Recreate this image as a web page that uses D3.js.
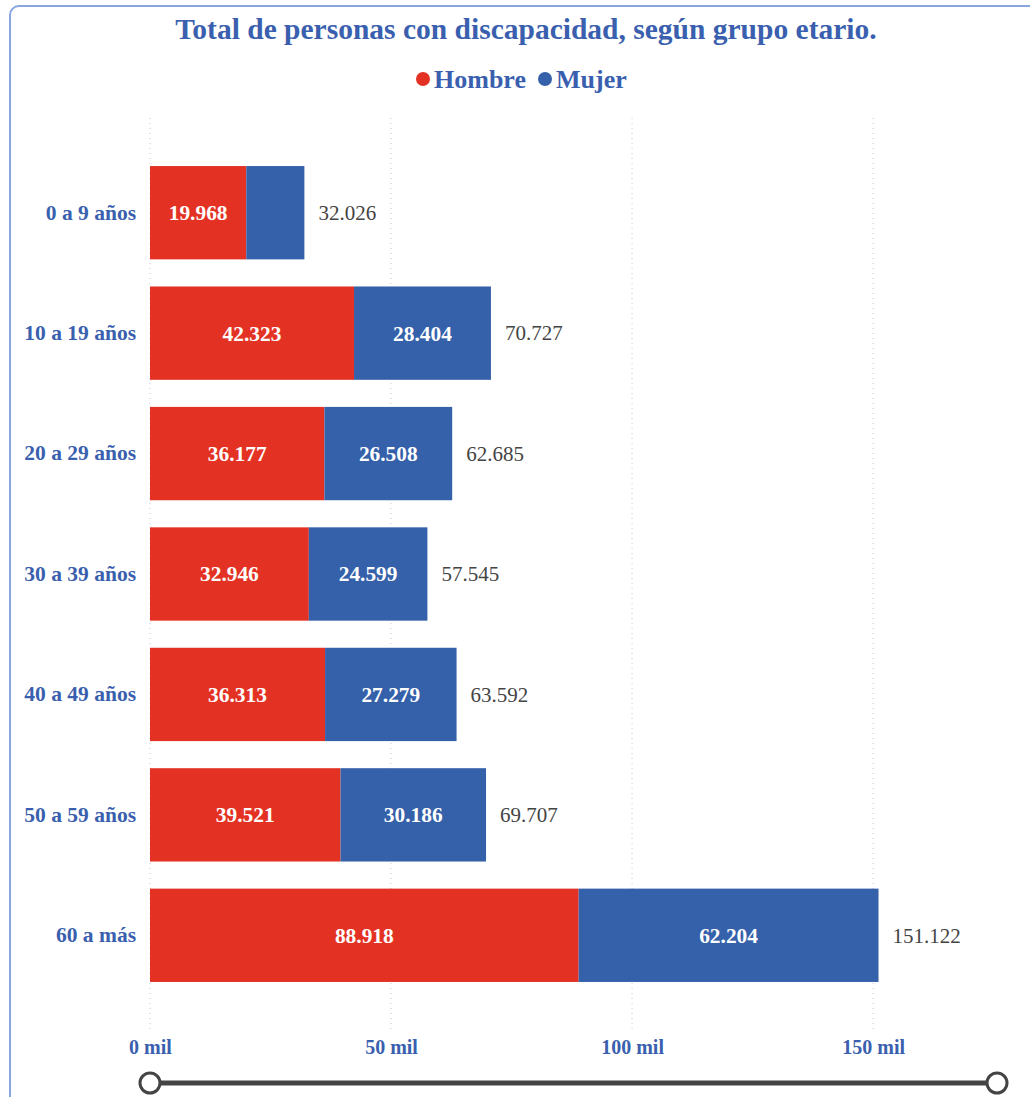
<!DOCTYPE html>
<html>
<head>
  <meta charset="utf-8">
  <title>Personas con discapacidad</title>
  <script src="https://d3js.org/d3.v7.min.js"></script>
  <style>
    body { margin: 0; background: #fff; }
    svg { display: block; font-family: "Liberation Serif", "DejaVu Serif", serif; }
  </style>
</head>
<body>
  <svg width="1030" height="1097"></svg>

  <script>
    const grupos = ["0 a 9 años", "10 a 19 años", "20 a 29 años", "30 a 39 años", "40 a 49 años", "50 a 59 años", "60 a más"];
    const hombre = [19968, 42323, 36177, 32946, 36313, 39521, 88918];
    const mujer = [12058, 28404, 26508, 24599, 27279, 30186, 62204];
    const ticks = [0, 50000, 100000, 150000];

    const rojo = "#e33224";
    const azul = "#3560aa";
    const azulTexto = "#3a5fae";

    const svg = d3.select("svg");

    const es = d3.formatLocale({ decimal: ",", thousands: ".", grouping: [3], currency: ["", ""] });
    const fmt = es.format(",d");

    const x = d3.scaleLinear().domain([0, 175700]).range([150, 997]);
    const y = d3.scaleBand().domain(grupos).range([152.5, 995.5]).paddingInner(0.225).paddingOuter(0.1125);

    // marco
    svg.append("rect")
      .attr("x", 10).attr("y", 6).attr("width", 1040).attr("height", 1120).attr("rx", 9)
      .attr("fill", "none").attr("stroke", "#87a6df").attr("stroke-width", 2);

    // titulo
    svg.append("text")
      .attr("x", 526).attr("y", 39)
      .attr("text-anchor", "middle")
      .attr("fill", azulTexto).attr("font-weight", "bold").attr("font-size", 29.5)
      .text("Total de personas con discapacidad, según grupo etario.");

    // leyenda
    const leyenda = [{ k: "Hombre", c: rojo, x: 423 }, { k: "Mujer", c: azul, x: 545 }];
    const lg = svg.append("g").selectAll("g").data(leyenda).join("g")
      .attr("transform", d => `translate(${d.x},79)`);
    lg.append("circle").attr("r", 7).attr("fill", d => d.c);
    lg.append("text").attr("x", 11).attr("dy", "0.35em")
      .attr("fill", azulTexto).attr("font-weight", "bold").attr("font-size", 26)
      .text(d => d.k);

    // rejilla
    svg.append("g").selectAll("line").data(ticks).join("line")
      .attr("x1", d => x(d)).attr("x2", d => x(d))
      .attr("y1", 118).attr("y2", 1030)
      .attr("stroke", "#c8c8c8").attr("stroke-width", 1).attr("stroke-dasharray", "1,4");

    // eje x
    const xAxis = svg.append("g")
      .attr("transform", "translate(0,1040)")
      .call(d3.axisBottom(x).tickValues(ticks).tickSize(0).tickPadding(0)
        .tickFormat(d => (d / 1000) + " mil"));
    xAxis.select(".domain").remove();
    xAxis.selectAll("text")
      .attr("dy", "0.71em")
      .attr("fill", azulTexto).attr("font-weight", "bold").attr("font-size", 20)
      .attr("font-family", "Liberation Serif, serif");

    // eje y
    const yAxis = svg.append("g")
      .attr("transform", "translate(136,0)")
      .call(d3.axisLeft(y).tickSize(0).tickPadding(0));
    yAxis.select(".domain").remove();
    yAxis.selectAll("text")
      .attr("fill", azulTexto).attr("font-weight", "bold").attr("font-size", 21.5)
      .attr("font-family", "Liberation Serif, serif");

    const filas = grupos.map((g, i) => ({ g, h: hombre[i], m: mujer[i], t: hombre[i] + mujer[i] }));

    const fila = svg.append("g").selectAll("g").data(filas).join("g");

    fila.append("rect")
      .attr("x", x(0)).attr("y", d => y(d.g))
      .attr("width", d => x(d.h) - x(0)).attr("height", y.bandwidth())
      .attr("fill", rojo);
    fila.append("rect")
      .attr("x", d => x(d.h)).attr("y", d => y(d.g))
      .attr("width", d => x(d.t) - x(d.h)).attr("height", y.bandwidth())
      .attr("fill", azul);

    fila.append("text")
      .attr("x", d => (x(0) + x(d.h)) / 2).attr("y", d => y(d.g) + y.bandwidth() / 2)
      .attr("dy", "0.35em").attr("text-anchor", "middle")
      .attr("fill", "#fff").attr("font-weight", "bold").attr("font-size", 21.4)
      .text(d => fmt(d.h));
    fila.filter(d => x(d.t) - x(d.h) > 70).append("text")
      .attr("x", d => (x(d.h) + x(d.t)) / 2).attr("y", d => y(d.g) + y.bandwidth() / 2)
      .attr("dy", "0.35em").attr("text-anchor", "middle")
      .attr("fill", "#fff").attr("font-weight", "bold").attr("font-size", 21.4)
      .text(d => fmt(d.m));

    fila.append("text")
      .attr("x", d => x(d.t) + 14).attr("y", d => y(d.g) + y.bandwidth() / 2)
      .attr("dy", "0.35em")
      .attr("fill", "#444").attr("font-size", 21)
      .text(d => fmt(d.t));

    // deslizador
    svg.append("line")
      .attr("x1", x(0)).attr("x2", x.range()[1]).attr("y1", 1083).attr("y2", 1083)
      .attr("stroke", "#444").attr("stroke-width", 5);
    svg.append("g").selectAll("circle").data(x.range()).join("circle")
      .attr("cx", d => d).attr("cy", 1083).attr("r", 10)
      .attr("fill", "#fff").attr("stroke", "#444").attr("stroke-width", 3);
  </script>
</body>
</html>
